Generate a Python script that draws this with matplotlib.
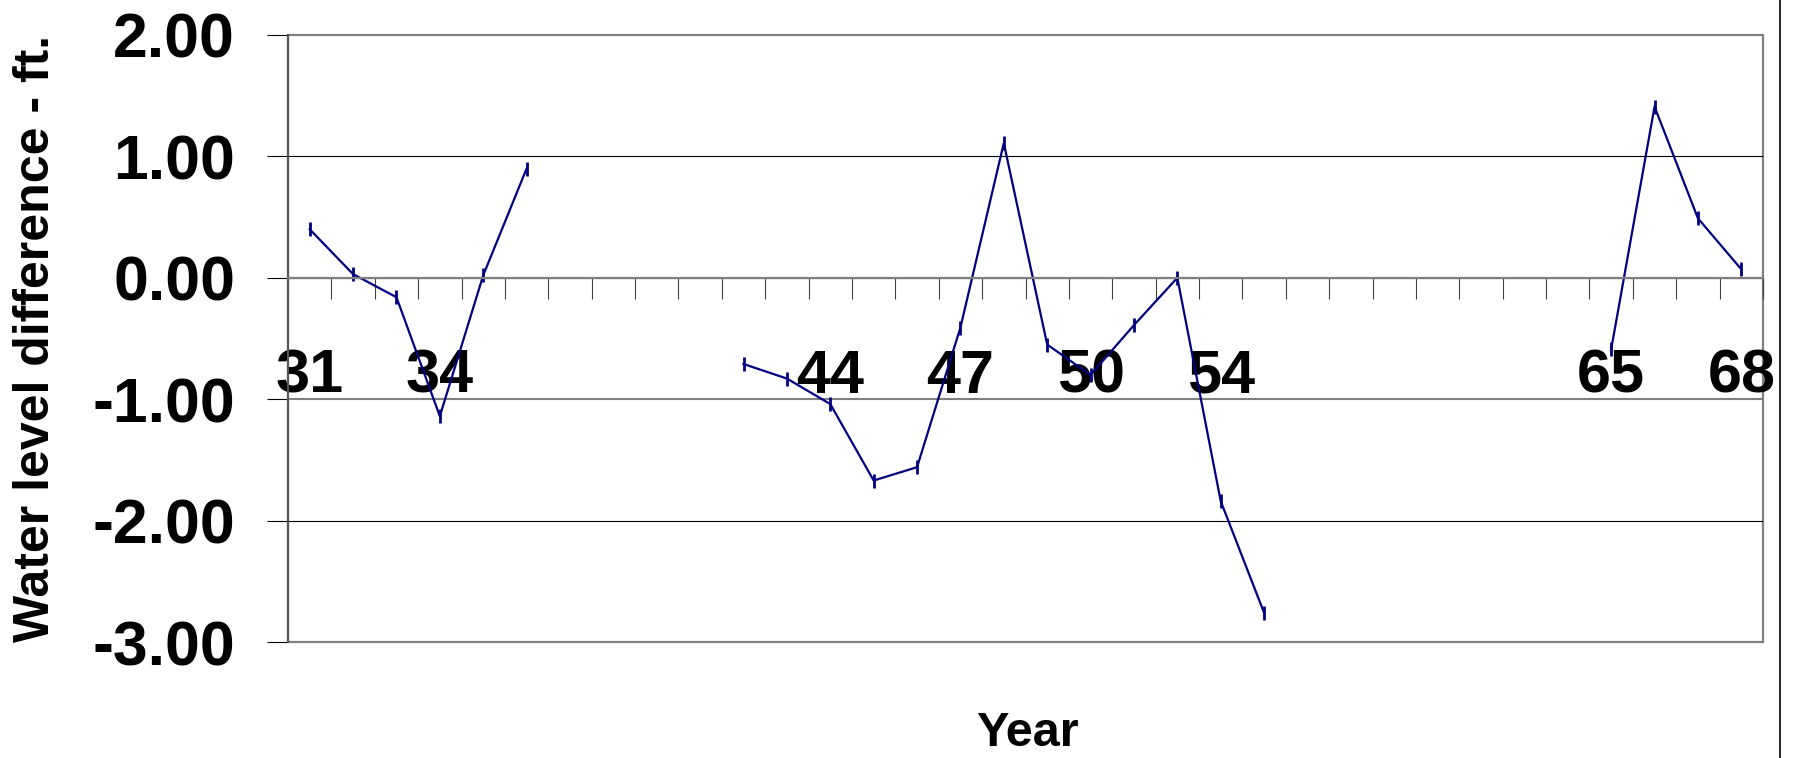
import numpy as np
import matplotlib
matplotlib.use('Agg')
import matplotlib.pyplot as plt
from matplotlib.lines import Line2D

plt.rcParams['font.family'] = ['Liberation Sans', 'DejaVu Sans']
plt.rcParams['font.weight'] = 'bold'

# category labels along the x axis (blank = gap in the record)
year_labels = ['31', '32', '33', '34', '35', '36', '', '', '', '',
               '42', '43', '44', '45', '46', '47', '48', '49', '50', '52',
               '53', '54', '55', '', '', '', '', '', '', '',
               '65', '66', '67', '68']

# water level difference, ft (nan where no data)
level_diff = [0.40, 0.03, -0.16, -1.14, 0.02, 0.90,
              np.nan, np.nan, np.nan, np.nan,
              -0.71, -0.83, -1.04, -1.67, -1.56, -0.41, 1.11, -0.55, -0.80,
              -0.39, 0.00, -1.84, -2.76,
              np.nan, np.nan, np.nan, np.nan, np.nan, np.nan, np.nan,
              -0.59, 1.41, 0.49, 0.07]

y_ticks = [2.0, 1.0, 0.0, -1.0, -2.0, -3.0]

W, H = 1795, 758
fig = plt.figure(figsize=(W / 100, H / 100), dpi=100)
ax = fig.add_axes([288 / W, 1 - 642 / H, (1763 - 288) / W, (642 - 35) / H])

x = np.arange(len(year_labels))
ax.plot(x, level_diff, color='#000080', lw=1.6, marker='|',
        markersize=9.5, markeredgewidth=2.0)

ax.set_xlim(-0.5, len(year_labels) - 0.5)
ax.set_ylim(-3, 2)

# plot-area frame
ax.patch.set_edgecolor('#808080')
ax.patch.set_linewidth(1.6)
ax.spines['top'].set_visible(False)
ax.spines['right'].set_visible(False)
ax.spines['left'].set_color('#555555')
ax.spines['left'].set_linewidth(1.5)
ax.spines['bottom'].set_position(('data', 0))
ax.spines['bottom'].set_color('#808080')
ax.spines['bottom'].set_linewidth(1.6)

# y axis
ax.set_yticks(y_ticks)
ax.set_yticklabels(['%.2f' % v for v in y_ticks], fontsize=45, fontweight='bold')
ax.tick_params(axis='y', direction='out', length=15, width=0.8,
               color='black', pad=23)
ax.grid(axis='y', color='black', linewidth=0.8)
for gl, v in zip(ax.get_ygridlines(), y_ticks):
    if v == -1.0:
        gl.set_color('#808080')
        gl.set_linewidth(1.5)
    if v in (2.0, -3.0):
        gl.set_visible(False)

# x axis: tick marks between categories, every third label
ax.set_xticks(x[::3])
ax.set_xticklabels(year_labels[::3], fontsize=44, fontweight='bold')
ax.set_xticks(np.arange(-0.5, len(year_labels)), minor=True)
ax.tick_params(axis='x', which='major', length=0, pad=51)
ax.tick_params(axis='x', which='minor', direction='out', length=15,
               width=0.8, color='#404040')

fig.text(36 / W, 0.5 * ((1 - 642 / H) + (1 - 35 / H)),
         'Water level difference - ft.', rotation=90, ha='center',
         va='center', fontsize=36, fontweight='bold')
fig.text(1027 / W, 1 - 746 / H, 'Year', ha='center', va='baseline',
         fontsize=35, fontweight='bold')

# outer chart border on the right
fig.add_artist(Line2D([1780 / W, 1780 / W], [0, 1], transform=fig.transFigure,
                      color='black', lw=1.2))

fig.savefig('out.png', dpi=100)
